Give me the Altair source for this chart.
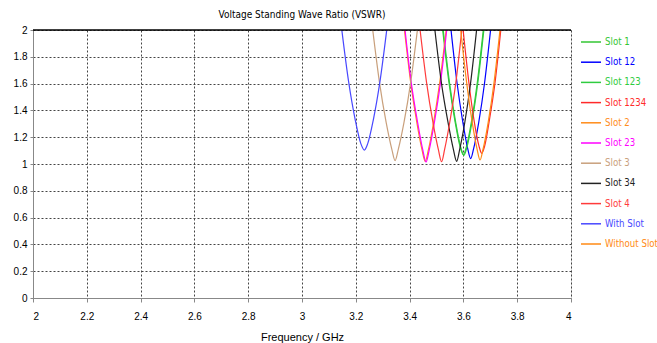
import altair as alt
import pandas as pd

FONT = "DejaVu Sans Condensed, Liberation Sans Narrow, sans-serif"

series_names = ["Slot 1", "Slot 12", "Slot 123", "Slot 1234", "Slot 2", "Slot 23",
                "Slot 3", "Slot 34", "Slot 4", "With Slot", "Without Slot"]
series_colors = ["#33c633", "#0000ff", "#2ecc40", "#ff2a2a", "#ff8c1a", "#ff00ff",
                 "#c9a07c", "#222222", "#ff3b3b", "#4848ff", "#ff8a14"]

# frequency (GHz) and VSWR, one pair of lists per series
f_slot1 = [3.523, 3.546, 3.569, 3.588, 3.600, 3.611, 3.630, 3.652, 3.674]
v_slot1 = [2.0, 1.613, 1.317, 1.128, 1.07, 1.128, 1.317, 1.613, 2.0]

f_slot12 = [3.554, 3.576, 3.598, 3.616, 3.627, 3.638, 3.657, 3.679, 3.701]
v_slot12 = [2.0, 1.610, 1.311, 1.114, 1.04, 1.114, 1.311, 1.610, 2.0]

f_slot123 = [3.525, 3.548, 3.571, 3.590, 3.602, 3.613, 3.632, 3.654, 3.676]
v_slot123 = [2.0, 1.612, 1.315, 1.125, 1.065, 1.125, 1.315, 1.612, 2.0]

f_slot1234 = [3.599, 3.620, 3.640, 3.658, 3.668, 3.679, 3.696, 3.718, 3.739]
v_slot1234 = [2.0, 1.614, 1.320, 1.134, 1.08, 1.134, 1.320, 1.614, 2.0]

f_slot2 = [3.381, 3.404, 3.427, 3.446, 3.458, 3.470, 3.489, 3.512, 3.536]
v_slot2 = [2.0, 1.609, 1.308, 1.107, 1.02, 1.107, 1.308, 1.609, 2.0]

f_slot23 = [3.383, 3.406, 3.430, 3.449, 3.461, 3.473, 3.492, 3.515, 3.538]
v_slot23 = [2.0, 1.609, 1.308, 1.106, 1.015, 1.106, 1.308, 1.609, 2.0]

f_slot3 = [3.263, 3.288, 3.313, 3.334, 3.346, 3.358, 3.379, 3.404, 3.429]
v_slot3 = [2.0, 1.609, 1.308, 1.109, 1.025, 1.109, 1.308, 1.609, 2.0]

f_slot34 = [3.494, 3.518, 3.543, 3.563, 3.575, 3.586, 3.605, 3.627, 3.649]
v_slot34 = [2.0, 1.609, 1.308, 1.107, 1.02, 1.107, 1.308, 1.609, 2.0]

f_slot4 = [3.439, 3.463, 3.487, 3.507, 3.519, 3.530, 3.549, 3.572, 3.594]
v_slot4 = [2.0, 1.609, 1.308, 1.107, 1.017, 1.107, 1.308, 1.609, 2.0]

f_with = [3.148, 3.173, 3.198, 3.219, 3.232, 3.244, 3.265, 3.290, 3.315]
v_with = [2.0, 1.618, 1.328, 1.150, 1.104, 1.150, 1.328, 1.618, 2.0]

f_without = [3.590, 3.612, 3.633, 3.651, 3.662, 3.673, 3.692, 3.714, 3.736]
v_without = [2.0, 1.609, 1.309, 1.110, 1.03, 1.110, 1.309, 1.609, 2.0]

x_ticks = [2, 2.2, 2.4, 2.6, 2.8, 3, 3.2, 3.4, 3.6, 3.8, 4]
y_ticks = [0, 0.2, 0.4, 0.6, 0.8, 1, 1.2, 1.4, 1.6, 1.8, 2]

all_f = [f_slot1, f_slot12, f_slot123, f_slot1234, f_slot2, f_slot23,
         f_slot3, f_slot34, f_slot4, f_with, f_without]
all_v = [v_slot1, v_slot12, v_slot123, v_slot1234, v_slot2, v_slot23,
         v_slot3, v_slot34, v_slot4, v_with, v_without]

rows = []
for name, fs, vs in zip(series_names, all_f, all_v):
    for f, v in zip(fs, vs):
        rows.append({"series": name, "freq": f, "vswr": v})
df = pd.DataFrame(rows)

label_color_expr = "[" + ",".join("'%s'" % c for c in series_colors) + "][indexof([" + \
    ",".join("'%s'" % n for n in series_names) + "], datum.label)]"

x_scale = alt.Scale(domain=[2, 4], nice=False, zero=False)
y_scale = alt.Scale(domain=[0, 2], nice=False)

y_axis = alt.Axis(values=y_ticks, format="~g", title=None,
                  grid=True, gridDash=[2, 2], gridColor="#444",
                  tickSize=3, labelPadding=3, labelOverlap=False)

lines = alt.Chart(df).mark_line(strokeWidth=1.2, interpolate="monotone", clip=True).encode(
    x=alt.X("freq:Q", scale=x_scale,
            axis=alt.Axis(values=x_ticks, format="~g", title="Frequency / GHz",
                          titleFontWeight="normal",
                          grid=True, gridDash=[2, 2], gridColor="#444",
                          tickSize=4, labelPadding=9, titlePadding=10,
                          labelOverlap=False)),
    y=alt.Y("vswr:Q", scale=y_scale, axis=y_axis),
    color=alt.Color("series:N", sort=series_names,
                    scale=alt.Scale(domain=series_names, range=series_colors),
                    legend=alt.Legend(title=None, orient="none", legendX=547, legendY=1,
                                      symbolType="stroke", symbolSize=400,
                                      symbolStrokeWidth=1.5, labelFontSize=9.6,
                                      labelFont=FONT, labelOffset=3, padding=0,
                                      rowPadding=4.2, labelLimit=120,
                                      labelColor=alt.ExprRef(expr=label_color_expr))),
    detail="series:N",
)

top_border = alt.Chart(pd.DataFrame({"v": [2]})).mark_rule(color="black", strokeWidth=1.5).encode(
    y=alt.Y("v:Q", scale=y_scale, axis=y_axis)
)

chart = alt.layer(lines, top_border).properties(
    width=538, height=268,
    autosize=alt.AutoSizeParams(type="none"),
    padding={"left": 33, "top": 30, "right": 86, "bottom": 45},
    title=alt.TitleParams("Voltage Standing Wave Ratio (VSWR)", fontSize=10,
                          fontWeight="normal", font=FONT, anchor="middle", offset=9,
                          dy=4, color="black"),
).configure_axis(
    labelFont=FONT, titleFont=FONT, labelFontSize=10, titleFontSize=10,
    titleFontWeight="normal", labelColor="black", titleColor="black",
    domainColor="black", tickColor="black", domainWidth=1,
).configure_view(
    stroke="#999", strokeWidth=1
).configure(background="white")

chart.save("out.html", embed_options={"renderer": "svg", "actions": False})
